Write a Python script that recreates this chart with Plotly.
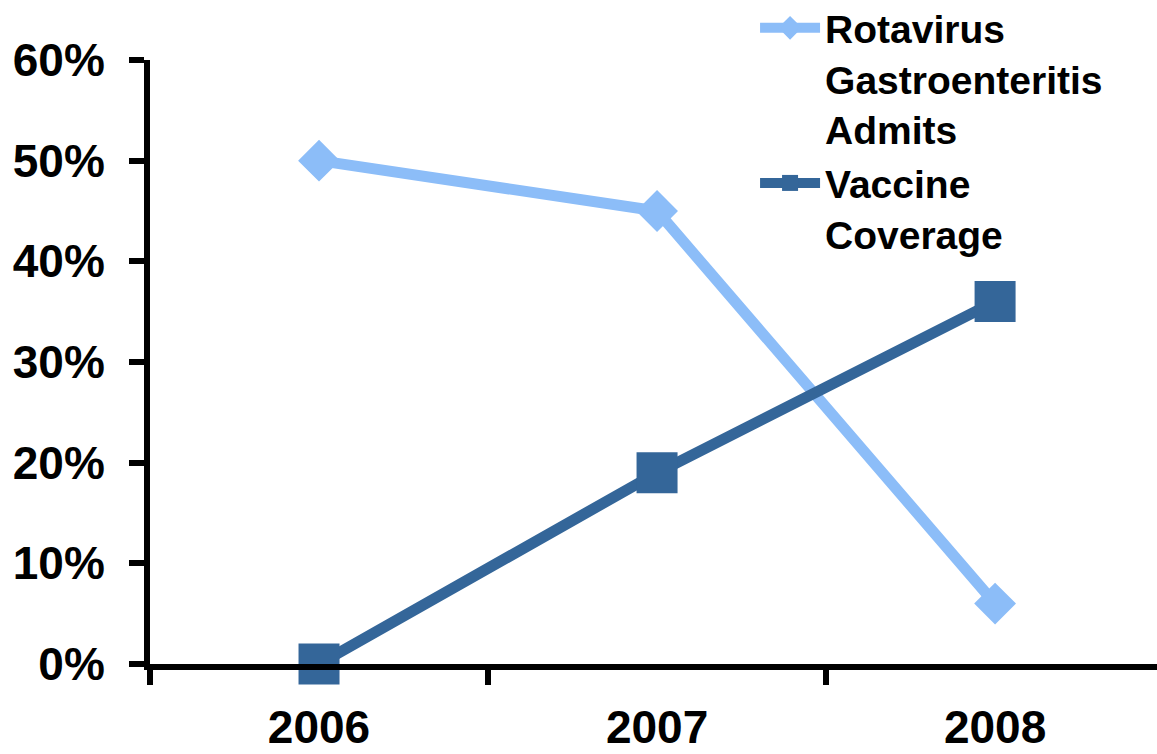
import plotly.graph_objects as go

years = ["2006", "2007", "2008"]
rotavirus_admits = [0.50, 0.45, 0.06]
vaccine_coverage = [0.00, 0.19, 0.36]
y_ticks = [0, 0.1, 0.2, 0.3, 0.4, 0.5, 0.6]
y_tick_labels = ["0%", "10%", "20%", "30%", "40%", "50%", "60%"]

LIGHT = "#8CBDF8"
DARK = "#346699"
FONT = "Liberation Sans, Arial, sans-serif"

fig = go.Figure()
fig.add_trace(go.Scatter(
    x=years, y=rotavirus_admits, mode="lines+markers",
    name="Rotavirus<br>Gastroenteritis<br>Admits",
    line=dict(color=LIGHT, width=11),
    marker=dict(symbol="diamond", size=30, color=LIGHT,
                line=dict(color=LIGHT, width=2)),
    cliponaxis=False,
))
fig.add_trace(go.Scatter(
    x=years, y=vaccine_coverage, mode="lines+markers",
    name="Vaccine<br>Coverage",
    line=dict(color=DARK, width=11),
    marker=dict(symbol="square", size=41, color=DARK),
    cliponaxis=False,
))

fig.update_layout(
    width=1157, height=754,
    margin=dict(l=150, r=0, t=60, b=90, autoexpand=False),
    paper_bgcolor="white", plot_bgcolor="white",
    font=dict(family=FONT, color="black", size=44, weight="bold"),
    showlegend=True,
    legend=dict(
        xref="container", yref="paper",
        x=0.6526, y=1.106, xanchor="left", yanchor="top",
        font=dict(size=39, family=FONT, weight="bold"),
        itemwidth=60, tracegroupgap=0, valign="top",
        bgcolor="rgba(0,0,0,0)",
    ),
)
fig.update_xaxes(
    type="category", range=[-0.5, 2.479],
    showline=True, linecolor="black", linewidth=6,
    ticks="outside", ticklen=15, tickwidth=6, tickcolor="black",
    tickson="boundaries", showgrid=False, zeroline=False,
    tickfont=dict(size=46, family=FONT, weight="bold"),
    ticklabelstandoff=18,
)
fig.update_yaxes(
    range=[0, 0.6], tickvals=y_ticks, ticktext=y_tick_labels,
    showline=True, linecolor="black", linewidth=6,
    ticks="outside", ticklen=15, tickwidth=6, tickcolor="black",
    showgrid=False, zeroline=False,
    tickfont=dict(size=46, family=FONT, weight="bold"),
    ticklabelstandoff=15,
)

fig.write_html("out.html")
